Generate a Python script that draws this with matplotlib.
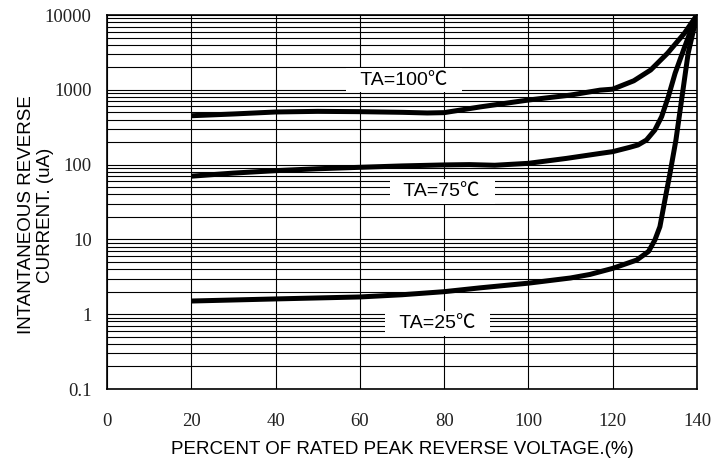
import numpy as np
import matplotlib
matplotlib.use("Agg")
import matplotlib.pyplot as plt
from matplotlib.ticker import FixedLocator, NullFormatter, LogLocator

# percent of rated peak reverse voltage vs. reverse current (uA)
volt_100 = [20, 30, 40, 50, 60, 70, 76, 80, 88.5, 100, 110, 117, 120, 125, 129, 133, 137, 140]
amps_100 = [450, 475, 505, 515, 510, 500, 490, 495, 590, 730, 850, 990, 1020, 1320, 1840, 3080, 5690, 10000]

volt_75 = [20, 30, 40, 50, 60, 70, 80, 86, 92, 100, 109, 117, 120, 124, 126, 128, 130, 131.6, 133.2, 134.8, 136.8, 138.7, 140]
amps_75 = [70, 77, 83, 88, 92, 96, 99, 100, 98, 104, 121, 141, 149, 170, 183, 213, 290, 437, 809, 1660, 3400, 6600, 10000]

volt_25 = [20, 40, 60, 70, 80, 88.5, 100, 110, 114.6, 120, 125.7, 128.5, 130, 131.2, 132.4, 133.6, 135, 137.9, 140]
amps_25 = [1.5, 1.6, 1.7, 1.82, 2.0, 2.25, 2.6, 3.05, 3.4, 4.1, 5.3, 6.9, 9.8, 14.8, 34, 77, 213, 3080, 10000]

labels = ["TA=100℃", "TA=75℃", "TA=25℃"]
label_x = [70.4, 79.5, 78.4]
label_y = [1350, 44, 0.76]

x_ticks = [0, 20, 40, 60, 80, 100, 120, 140]
y_ticks = [0.1, 1, 10, 100, 1000, 10000]
y_tick_labels = ["0.1", "1", "10", "100", "1000", "10000"]

sans = ["Liberation Sans", "Noto Sans CJK TC", "DejaVu Sans"]
serif = ["Liberation Serif", "DejaVu Serif"]

fig = plt.figure(figsize=(7.24, 4.61), dpi=100)
ax = fig.add_axes([107 / 724, 1 - 389 / 461, 590 / 724, 374 / 461])

ax.set_yscale("log")
ax.set_xlim(0, 140)
ax.set_ylim(0.1, 10000)

# grid: every 20 % across, 1..9 per decade up
ax.xaxis.set_major_locator(FixedLocator(x_ticks))
ax.yaxis.set_major_locator(FixedLocator(y_ticks))
ax.yaxis.set_minor_locator(LogLocator(base=10, subs=np.arange(2, 10)))
ax.yaxis.set_minor_formatter(NullFormatter())
ax.set_yticklabels(y_tick_labels)
ax.grid(True, which="major", color="black", lw=0.8)
ax.grid(True, which="minor", axis="y", color="black", lw=0.8)
ax.set_axisbelow(True)

ax.tick_params(which="both", length=0)
ax.tick_params(axis="x", pad=17, labelsize=13.5)
ax.tick_params(axis="y", pad=11, labelsize=13.5)
for t in ax.get_xticklabels() + ax.get_yticklabels():
    t.set_family(serif)
    t.set_color("#222222")

for sp in ax.spines.values():
    sp.set_linewidth(1.2)
    sp.set_color("black")

for vx, vy in [(volt_100, amps_100), (volt_75, amps_75), (volt_25, amps_25)]:
    ax.plot(vx, vy, color="black", lw=3.6, solid_capstyle="butt",
            solid_joinstyle="round", zorder=3)

for txt, lx, ly in zip(labels, label_x, label_y):
    ax.text(lx, ly, "  " + txt + "  ", ha="center", va="center", fontsize=14,
            family=sans, zorder=4,
            bbox=dict(boxstyle="square,pad=0.2", fc="white", ec="none"))

ax.set_xlabel("PERCENT OF RATED PEAK REVERSE VOLTAGE.(%)", fontsize=13.5,
              family=sans, labelpad=8)
fig.text(36 / 724, 1 - 215 / 461, "INTANTANEOUS REVERSE\nCURRENT. (uA)",
         rotation=90, ha="center", va="center", multialignment="center",
         fontsize=13.5, family=sans, linespacing=1.2)

fig.savefig("out.png", dpi=100)
